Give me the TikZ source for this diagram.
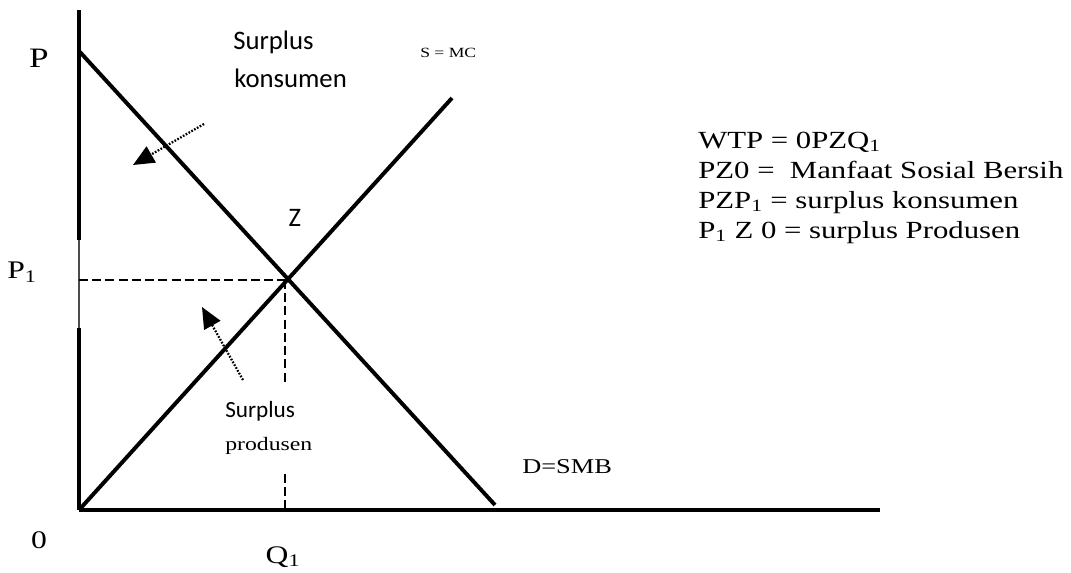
\documentclass[tikz,border=0pt]{standalone}
\usepackage{fontspec}
\setmainfont[FakeStretch=1.25]{Liberation Serif}
\setsansfont{Carlito}
\usetikzlibrary{arrows.meta}
\newcommand{\fsz}[1]{\fontsize{#1}{#1}\selectfont}
\tikzset{
  curve/.style={line width=2.8pt},
  guide/.style={line width=2pt, dash pattern=on 6.4pt off 3pt},
  pointer/.style={line width=1.6pt, dash pattern=on 1.2pt off 1.1pt,
    -{Triangle[length=15pt,width=13pt]}},
  lbl/.style={inner sep=0pt},
}

\begin{document}
\begin{tikzpicture}[x=0.025cm,y=-0.025cm]
\useasboundingbox (0,0) rectangle (1071,572);
% Axes
\coordinate (O) at (79,510);
\coordinate (ytop) at (79,10);
\coordinate (xend) at (880,510);
\coordinate (gaplo) at (79,328);
\coordinate (gaphi) at (79,240);
\draw[curve] (O) -- (gaplo);
\draw[line width=0.8pt, black!70] (gaplo) -- (gaphi);
\draw[curve] (gaphi) -- (ytop);
\draw[curve] (O) -- (xend);
% Demand D=SMB and supply S=MC
\coordinate (P) at (79,51);
\coordinate (Dend) at (495,505);
\coordinate (Send) at (452,98);
\coordinate (Z) at (285,280);
\draw[curve] (P) -- (Dend);
\draw[curve] (O) -- (Send);
% Guides to P1 and Q1
\coordinate (P1) at (79,280);
\coordinate (Qbreak) at (285,382);
\coordinate (Qresume) at (285,474);
\coordinate (Q1) at (285,510);
\draw[guide] (P1) -- (Z);
\draw[guide] (Z) -- (Qbreak);
\draw[guide] (Qresume) -- (Q1);
% Pointers to the two surplus areas
\coordinate (kfrom) at (204,124);
\coordinate (kto) at (133,165);
\coordinate (pfrom) at (243,380);
\coordinate (pto) at (202,307);
\draw[pointer] (kfrom) -- (kto);
\draw[pointer] (pfrom) -- (pto);
% Axis labels
\node[lbl] (lP) at (39,58) {\fsz{20}P};
\node[lbl] (lP1) at (22,272) {\fsz{18}P\textsubscript{1}};
\node[lbl] (lO) at (39,540) {\fsz{18}0};
\node[lbl] (lQ1) at (283,557) {\fsz{18}Q\textsubscript{1}};
\node[lbl] (lZ) at (295,218) {\fsz{19}\sffamily Z};
% Curve and area labels
\node[lbl, anchor=base west] (ks1) at (233,49) {\fsz{19}\sffamily Surplus};
\node[lbl, anchor=base west] (ks2) at (234,87) {\fsz{19}\sffamily konsumen};
\node[lbl, anchor=base west] (ps1) at (225,417) {\fsz{16.5}\sffamily Surplus};
\node[lbl, anchor=base west] (ps2) at (225,450) {\fsz{13.5}produsen};
\node[lbl, anchor=base west] (lS) at (420,57) {\fsz{10}S = MC};
\node[lbl, anchor=base west] (lD) at (522,473) {\fsz{15}D=SMB};
% Definitions
\node[lbl, anchor=base west] (wtp) at (698,148) {\fsz{17.5}WTP = 0PZQ\textsubscript{1}};
\node[lbl, anchor=base west] (pzo) at (698,178) {\fsz{17.5}PZ0 = \ Manfaat Sosial Bersih};
\node[lbl, anchor=base west] (pzp) at (698,208) {\fsz{17.5}PZP\textsubscript{1} = surplus konsumen};
\node[lbl, anchor=base west] (pzn) at (698,238) {\fsz{17.5}P\textsubscript{1} Z 0 = surplus Produsen};
\end{tikzpicture}
\end{document}
